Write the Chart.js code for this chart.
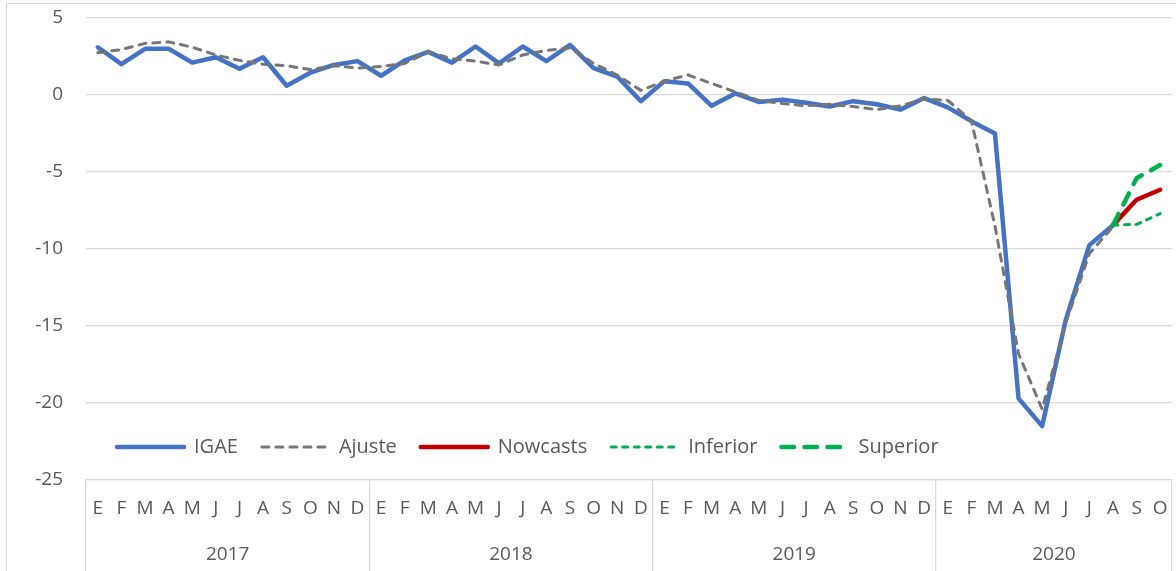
<!DOCTYPE html>
<html>
<head>
<meta charset="utf-8">
<script src="https://cdn.jsdelivr.net/npm/chart.js@4"></script>
<style>
  html, body { margin: 0; padding: 0; background: #fff; overflow: hidden; }
  #frame { position: absolute; left: 6px; top: 3px; width: 1200px; height: 600px; border: 1px solid #d9d9d9; }
  #igaeChart { position: absolute; left: 0; top: 0; }
</style>
</head>
<body>
<div id="frame"></div>
<canvas id="igaeChart" width="1176" height="571"></canvas>
<script>
// categories: month initials per year (2020 only up to October)
const monthLetters = ["E", "F", "M", "A", "M", "J", "J", "A", "S", "O", "N", "D"];
const years = ["2017", "2018", "2019", "2020"];
const monthsPerYear = [12, 12, 12, 10];

const months = [];
monthsPerYear.forEach(n => months.push(...monthLetters.slice(0, n)));

// series values
const igae = [
    3.1, 2.0, 3.0, 3.0, 2.1, 2.45, 1.7, 2.45, 0.6, 1.45, 1.95, 2.2,
    1.25, 2.25, 2.8, 2.1, 3.15, 2.05, 3.15, 2.2, 3.25, 1.75, 1.2, -0.4,
    0.9, 0.75, -0.7, 0.1, -0.45, -0.3, -0.5, -0.75, -0.4, -0.6, -0.95, -0.2,
    -0.8, -1.7, -2.5, -19.7, -21.5, -14.6, -9.75, -8.45, null, null
];

const ajuste = [
    2.75, 2.95, 3.35, 3.45, 3.1, 2.6, 2.25, 2.0, 1.9, 1.65, 1.9, 1.75,
    1.85, 2.05, 2.8, 2.35, 2.2, 1.95, 2.6, 2.9, 3.05, 2.05, 1.3, 0.3,
    0.9, 1.3, 0.75, 0.2, -0.35, -0.55, -0.7, -0.6, -0.75, -0.95, -0.7, -0.25,
    -0.35, -1.65, -8.5, -16.8, -20.4, -14.8, -10.3, -8.55, null, null
];

const nowcasts = [
    null, null, null, null, null, null, null, null, null, null, null, null,
    null, null, null, null, null, null, null, null, null, null, null, null,
    null, null, null, null, null, null, null, null, null, null, null, null,
    null, null, null, null, null, null, null, -8.45, -6.8, -6.15
];

const inferior = [
    null, null, null, null, null, null, null, null, null, null, null, null,
    null, null, null, null, null, null, null, null, null, null, null, null,
    null, null, null, null, null, null, null, null, null, null, null, null,
    null, null, null, null, null, null, null, -8.45, -8.4, -7.7
];

const superior = [
    null, null, null, null, null, null, null, null, null, null, null, null,
    null, null, null, null, null, null, null, null, null, null, null, null,
    null, null, null, null, null, null, null, null, null, null, null, null,
    null, null, null, null, null, null, null, -8.45, -5.4, -4.55
];

// y axis tick range
const yMin = -25, yMax = 5, yStep = 5;

// centre and first index of each year group, in category units
const yearCenters = [];
const yearStarts = [];
let start = 0;
monthsPerYear.forEach(n => {
    yearStarts.push(start);
    yearCenters.push(start + (n - 1) / 2);
    start += n;
});

const textColor = "#595959";
const gridColor = "#d9d9d9";
const fontFamily = "'Open Sans', Lato, sans-serif";

// put the legend inside the plot, just above the bottom axis
const legendInside = {
    id: "legendInside",
    afterLayout(chart) {
        const lg = chart.legend;
        const area = chart.chartArea;
        lg.left = area.left + 7;
        lg.right = area.right;
        lg.top = area.bottom - 67;
        lg.bottom = area.bottom - 2;
    }
};

function line(label, data, color, width, dash, order) {
    return {
        label: label,
        data: data,
        borderColor: color,
        backgroundColor: color,
        borderWidth: width,
        borderDash: dash,
        borderCapStyle: "round",
        borderJoinStyle: "round",
        pointRadius: 0,
        pointHoverRadius: 0,
        tension: 0,
        fill: false,
        order: order,
        xAxisID: "x",
        yAxisID: "y"
    };
}

// legend entries as line samples carrying the dataset's dash pattern
function legendLabels(chart) {
    return chart.data.datasets.map((ds, i) => ({
        text: ds.label,
        datasetIndex: i,
        fillStyle: ds.borderColor,
        strokeStyle: ds.borderColor,
        lineWidth: ds.borderWidth,
        lineDash: ds.borderDash,
        lineCap: "round",
        lineJoin: "round",
        pointStyle: "line",
        fontColor: textColor,
        hidden: false
    }));
}

const ctx = document.getElementById("igaeChart").getContext("2d");
new Chart(ctx, {
    type: "line",
    data: {
        labels: months,
        datasets: [
            line("IGAE", igae, "#4472c4", 4.5, [], 5),
            line("Ajuste", ajuste, "#767676", 3, [7, 7], 4),
            line("Nowcasts", nowcasts, "#c00000", 4.5, [], 3),
            line("Inferior", inferior, "#00b050", 3, [5, 6.5], 2),
            line("Superior", superior, "#00b050", 4.5, [12.5, 10.5], 1)
        ]
    },
    options: {
        responsive: false,
        animation: false,
        layout: { padding: { top: 18, right: 4, bottom: 0, left: 0 } },
        plugins: {
            tooltip: { enabled: false },
            legend: {
                position: "bottom",
                align: "start",
                maxHeight: 1,
                labels: {
                    usePointStyle: true,
                    pointStyle: "line",
                    pointStyleWidth: 67,
                    padding: 24,
                    color: textColor,
                    font: { family: fontFamily, size: 20 },
                    generateLabels: legendLabels
                }
            }
        },
        scales: {
            y: {
                min: yMin,
                max: yMax,
                afterFit: (scale) => { scale.width = 86; },
                ticks: {
                    stepSize: yStep,
                    padding: 0,
                    color: textColor,
                    font: { family: fontFamily, size: 19 }
                },
                grid: {
                    color: gridColor,
                    lineWidth: 1.3,
                    drawTicks: true,
                    tickLength: 23,
                    tickColor: "rgba(0,0,0,0)"
                },
                border: { display: false }
            },
            x: {
                type: "category",
                position: "bottom",
                weight: 0,
                offset: true,
                afterFit: (scale) => { scale.height = 46; },
                ticks: {
                    autoSkip: false,
                    maxRotation: 0,
                    padding: -73.4,
                    color: textColor,
                    font: { family: fontFamily, size: 19 }
                },
                grid: {
                    offset: true,
                    drawOnChartArea: false,
                    drawTicks: true,
                    tickLength: 91,
                    lineWidth: 1.3,
                    color: (c) => (c.type !== "tick" || yearStarts.includes(c.index)) ? gridColor : "rgba(0,0,0,0)"
                },
                border: { display: true, color: gridColor, width: 1.3 }
            },
            x2: {
                type: "linear",
                axis: "x",
                position: "bottom",
                weight: 1,
                min: -0.5,
                max: months.length - 0.5,
                afterFit: (scale) => { scale.height = 44; },
                afterBuildTicks: (scale) => { scale.ticks = yearCenters.map(v => ({ value: v })); },
                ticks: {
                    autoSkip: false,
                    maxRotation: 0,
                    padding: 17.6,
                    color: textColor,
                    font: { family: fontFamily, size: 19 },
                    callback: (value, index) => years[index]
                },
                grid: { display: false, drawTicks: false },
                border: { display: false }
            }
        }
    },
    plugins: [legendInside]
});
</script>
</body>
</html>
